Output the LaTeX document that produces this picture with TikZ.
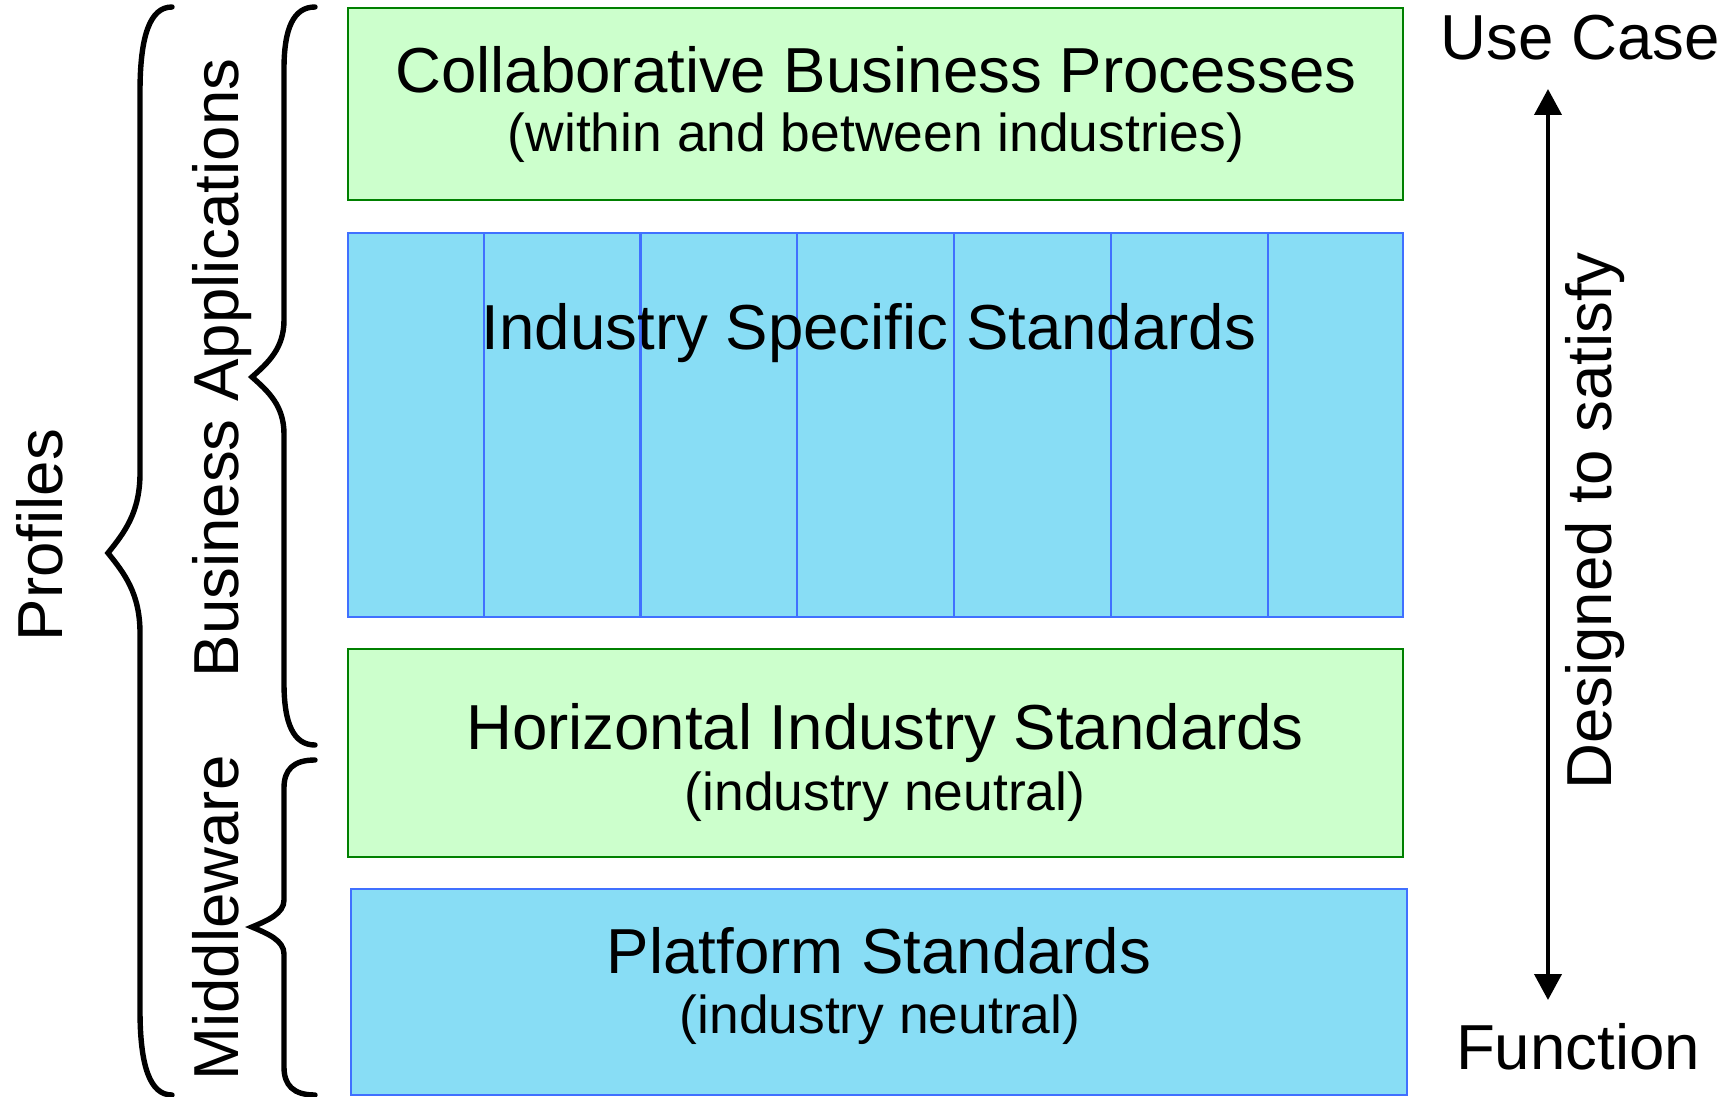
\documentclass[tikz,border=0pt]{standalone}
\usepackage{fontspec}
\setmainfont{Liberation Sans}
\usetikzlibrary{arrows.meta}
\definecolor{lgreen}{RGB}{204,255,204}
\definecolor{dgreen}{RGB}{0,128,0}
\definecolor{lblue}{RGB}{136,221,245}
\definecolor{eblue}{RGB}{64,112,255}

% #1 end x, #2 spine x, #3 tip x, #4 top y, #5 tip y, #6 bottom y, #7 end radius, #8 tip radius
\newcommand{\curlybrace}[8]{%
  \draw[brace] (#1,#4) .. controls ({#2+0.3*(#1-#2)},#4) and (#2,{#4+0.35*#7}) .. (#2,{#4+#7})
    -- (#2,{#5-#8}) .. controls (#2,{#5-0.5*#8}) and ({#3+0.5*(#2-#3)},{#5-0.25*#8}) .. (#3,#5)
    .. controls ({#3+0.5*(#2-#3)},{#5+0.25*#8}) and (#2,{#5+0.5*#8}) .. (#2,{#5+#8})
    -- (#2,{#6-#7}) .. controls (#2,{#6-0.35*#7}) and ({#2+0.3*(#1-#2)},#6) .. (#1,#6);}

\begin{document}
\begin{tikzpicture}[x=0.5pt, y=-0.5pt,
    greenbox/.style={fill=lgreen, draw=dgreen, line width=1.4pt},
    bluebox/.style={fill=lblue, draw=eblue, line width=1.4pt},
    colline/.style={draw=eblue, line width=1.1pt},
    brace/.style={line width=2.7pt, line cap=round},
    toptext/.style={font=\fontsize{31.8}{38}\selectfont, anchor=base, inner sep=0pt},
    subtext/.style={font=\fontsize{26.7}{32}\selectfont, anchor=base, inner sep=0pt},
    sidetext/.style={font=\fontsize{31.8}{38}\selectfont, inner sep=0pt},
    bothways/.style={line width=2pt, {Triangle[width=13.5pt,length=13pt]}-{Triangle[width=13.5pt,length=13pt]}}]
  \useasboundingbox (0,0) rectangle (1731,1097);

  \filldraw[greenbox] (348,8) rectangle (1403,200);
  \filldraw[bluebox]  (348,233) rectangle (1403,617);
  \foreach \x in {483.6, 640.4, 797.2, 954, 1110.8, 1267.6}
    \draw[colline] (\x,233) -- (\x,617);
  \filldraw[greenbox] (348,649) rectangle (1403,857);
  \filldraw[bluebox]  (351,889) rectangle (1407,1095);

  \node[toptext] (collab)    at (876,93)   {Collaborative Business Processes};
  \node[subtext] (collabsub) at (876,152)  {(within and between industries)};
  \node[toptext] (indspec)   at (869,349)  {Industry Specific Standards};
  \node[toptext] (horiz)     at (885,749)  {Horizontal Industry Standards};
  \node[subtext] (horizsub)  at (885,810)  {(industry neutral)};
  \node[toptext] (platf)     at (879,973)  {Platform Standards};
  \node[subtext] (platfsub)  at (880,1033) {(industry neutral)};

  \curlybrace{172}{140}{108}{7}{553}{1095}{85}{80}
  \curlybrace{315}{284}{252}{7}{377}{745}{62}{57}
  \curlybrace{315}{284}{252}{760}{927}{1095}{28}{27}

  \node[sidetext, rotate=90] (profiles) at (40,535)  {Profiles};
  \node[sidetext, rotate=90] (busapp)   at (222,368) {Business Applications};
  \node[sidetext, rotate=90] (midware)  at (216,918) {Middleware};

  \node[sidetext] (usecase)  at (1580,38)   {Use Case};
  \node[sidetext] (function) at (1578,1047) {Function};
  \coordinate (uptip) at (1548,89);
  \coordinate (downtip) at (1548,1000);
  \draw[bothways] (uptip) -- (downtip);
  \node[sidetext, rotate=90] (designed) at (1595,521) {Designed to satisfy};
\end{tikzpicture}
\end{document}
